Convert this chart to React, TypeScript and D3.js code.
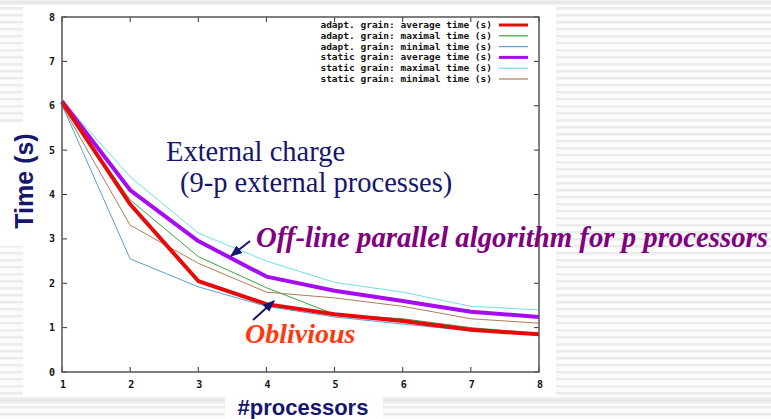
import * as d3 from 'd3'

const processors = [1, 2, 3, 4, 5, 6, 7, 8]
const yTicks = [0, 1, 2, 3, 4, 5, 6, 7, 8]

const adaptAvg  = [6.08, 3.78, 2.05, 1.53, 1.3, 1.15, 0.95, 0.85]
const adaptMax  = [6.05, 3.88, 2.6, 1.9, 1.3, 1.2, 1.0, 0.87]
const adaptMin  = [6.02, 2.55, 1.92, 1.48, 1.24, 1.08, 0.93, 0.83]
const staticAvg = [6.1, 4.1, 2.95, 2.15, 1.83, 1.6, 1.36, 1.24]
const staticMax = [6.12, 4.4, 3.13, 2.5, 2.02, 1.8, 1.48, 1.4]
const staticMin = [6.0, 3.31, 2.45, 1.8, 1.67, 1.48, 1.2, 1.1]

const seriesNames = [
  'adapt. grain: average time (s)',
  'adapt. grain: maximal time (s)',
  'adapt. grain: minimal time (s)',
  'static grain: average time (s)',
  'static grain: maximal time (s)',
  'static grain: minimal time (s)',
]
const seriesValues = [adaptAvg, adaptMax, adaptMin, staticAvg, staticMax, staticMin]
const seriesColors = ['#e60a0a', '#3aa63a', '#5a9fd0', '#a60cf0', '#6ee0e6', '#b07a58']
const seriesWidths = [4, 1, 1, 4, 1, 1]

const W = 771
const H = 419
const PLOT = { left: 62, right: 539, top: 17, bottom: 372 }

const MONO = '"DejaVu Sans Mono", monospace'
const SERIF = '"Liberation Serif", "Times New Roman", serif'
const SANS = '"Liberation Sans", Arial, sans-serif'
const NAVY = '#16166e'

export default function App() {
  const x = d3.scaleLinear().domain([1, 8]).range([PLOT.left, PLOT.right])
  const y = d3.scaleLinear().domain([0, 8]).range([PLOT.bottom, PLOT.top])
  const line = d3.line<number>()
    .x((_d, i) => x(processors[i]))
    .y(d => y(d))

  // thin lines first, thick ones on top
  const order = [5, 4, 2, 1, 3, 0]

  return (
    <svg width={W} height={H} viewBox={`0 0 ${W} ${H}`}
      style={{ position: 'absolute', left: 0, top: 0, display: 'block' }}>
      <defs>
        <pattern id="stripes" width="8" height="7" patternUnits="userSpaceOnUse">
          <rect width="8" height="7" fill="#fbfbfb" />
          <rect y="0" width="8" height="2.5" fill="#ebebeb" />
        </pattern>
        <linearGradient id="band" x1="0" x2="0" y1="0" y2="1">
          <stop offset="0" stopColor="#f4f4f4" />
          <stop offset="0.5" stopColor="#e4e4e4" />
          <stop offset="1" stopColor="#f4f4f4" />
        </linearGradient>
        <marker id="arrow" viewBox="0 0 10 10" refX="9" refY="5"
          markerWidth="6" markerHeight="6" orient="auto-start-reverse">
          <path d="M0,1 L10,5 L0,9 z" fill={NAVY} />
        </marker>
      </defs>

      {/* slide background */}
      <rect width={W} height={H} fill="url(#stripes)" />
      <rect x={0} y={0} width={W} height={5} fill="url(#band)" />
      <rect x={0} y={397} width={W} height={7} fill="url(#band)" />
      <rect x={23} y={6} width={533} height={390} fill="#ffffff" />
      <rect x={0} y={124} width={24} height={122} fill="#ffffff" />
      <rect x={225} y={397} width={158} height={22} fill="#ffffff" />

      {/* ticks */}
      <g stroke="#333" strokeWidth={1}>
        {yTicks.map(t => (
          <g key={`y${t}`}>
            <line x1={PLOT.left} x2={PLOT.left + 5} y1={y(t)} y2={y(t)} />
            <line x1={PLOT.right} x2={PLOT.right - 5} y1={y(t)} y2={y(t)} />
          </g>
        ))}
        {processors.map(p => (
          <g key={`x${p}`}>
            <line x1={x(p)} x2={x(p)} y1={PLOT.bottom} y2={PLOT.bottom - 5} />
            <line x1={x(p)} x2={x(p)} y1={PLOT.top} y2={PLOT.top + 5} />
          </g>
        ))}
      </g>

      {/* tick labels */}
      <g fontFamily={MONO} fontWeight="bold" fontSize={10} fill="#111">
        {yTicks.map(t => (
          <text key={`yl${t}`} x={55} y={y(t) + 3.5} textAnchor="end">{t}</text>
        ))}
        {processors.map(p => (
          <text key={`xl${p}`} x={x(p) + 1} y={388} textAnchor="middle">{p}</text>
        ))}
      </g>

      {/* series */}
      <g fill="none" strokeLinejoin="round">
        {order.map(i => (
          <path key={seriesNames[i]} d={line(seriesValues[i]) ?? ''}
            stroke={seriesColors[i]} strokeWidth={seriesWidths[i]} />
        ))}
      </g>

      {/* border */}
      <rect x={PLOT.left} y={PLOT.top} width={PLOT.right - PLOT.left}
        height={PLOT.bottom - PLOT.top} fill="none" stroke="#555" strokeWidth={1.5} />

      {/* legend */}
      <g fontFamily={MONO} fontWeight="bold" fontSize={9.5} fill="#111">
        {seriesNames.map((name, i) => {
          const ly = 25 + i * 10.8
          return (
            <g key={name}>
              <text x={492} y={ly + 3} textAnchor="end">{name}</text>
              <line x1={499} x2={528} y1={ly} y2={ly}
                stroke={seriesColors[i]} strokeWidth={seriesWidths[i] === 4 ? 3 : 1.2} />
            </g>
          )
        })}
      </g>

      {/* annotations */}
      <g fontFamily={SERIF} fill={NAVY} fontSize={28.5}>
        <text x={166} y={161}>External charge</text>
        <text x={180} y={192}>(9-p external processes)</text>
      </g>
      <text x={256} y={247} fontFamily={SERIF} fontStyle="italic" fontWeight="bold"
        fontSize={28.5} fill="#800080" textLength={512} lengthAdjust="spacingAndGlyphs">
        Off-line parallel algorithm for p processors
      </text>
      <text x={245} y={343} fontFamily={SERIF} fontStyle="italic" fontWeight="bold"
        fontSize={28} fill="#ff3a10">Oblivious</text>
      <line x1={250} y1={241} x2={231} y2={256} stroke={NAVY} strokeWidth={2}
        markerEnd="url(#arrow)" />
      <line x1={253} y1={320} x2={274} y2={301} stroke={NAVY} strokeWidth={2}
        markerEnd="url(#arrow)" />

      {/* axis titles */}
      <text transform="translate(33,181) rotate(-90)" textAnchor="middle"
        fontFamily={SANS} fontWeight="bold" fontSize={25} fill={NAVY}>Time (s)</text>
      <text x={303} y={415} textAnchor="middle"
        fontFamily={SANS} fontWeight="bold" fontSize={22} fill={NAVY}>#processors</text>
    </svg>
  )
}
